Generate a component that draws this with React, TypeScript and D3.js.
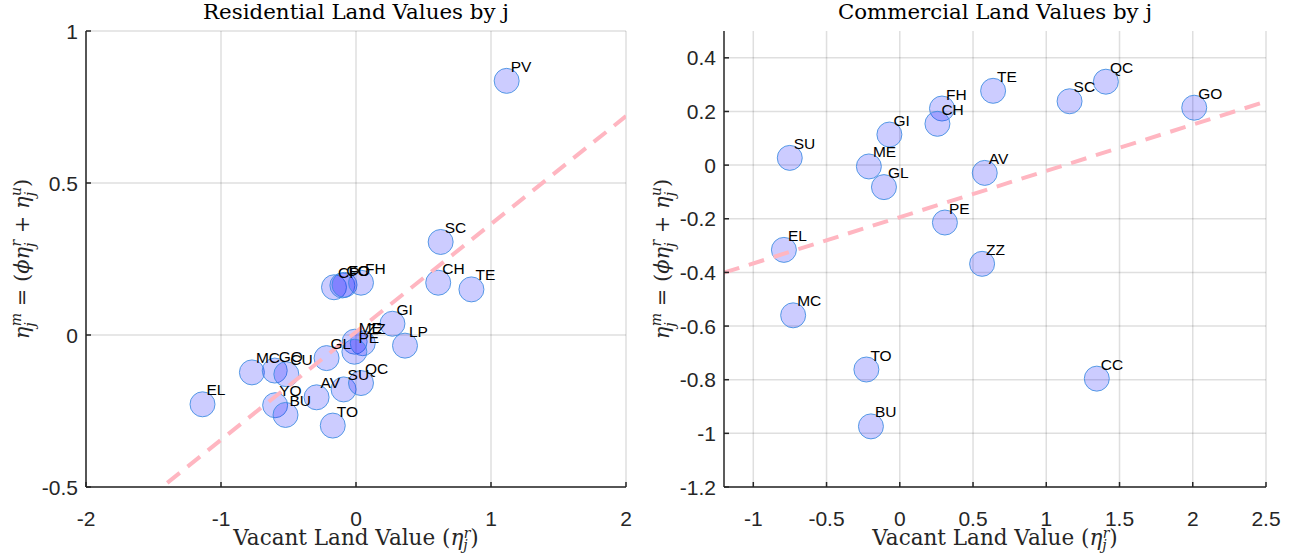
import React from 'react';
import * as d3 from 'd3';

// ---------- Data ----------
const resLabels = ['PV', 'SC', 'CH', 'TE', 'CP', 'CC', 'FO', 'FH', 'GI', 'ME', 'ZZ', 'PE', 'LP', 'GL', 'MC', 'GO', 'CU', 'EL', 'YO', 'BU', 'AV', 'SU', 'QC', 'TO'];
const resX = [1.116, 0.627, 0.609, 0.855, -0.163, -0.101, -0.085, 0.037, 0.27, -0.01, 0.05, -0.012, 0.363, -0.218, -0.771, -0.602, -0.516, -1.137, -0.599, -0.522, -0.292, -0.092, 0.037, -0.172];
const resY = [0.836, 0.306, 0.172, 0.15, 0.157, 0.163, 0.165, 0.172, 0.037, -0.022, -0.027, -0.055, -0.035, -0.076, -0.123, -0.117, -0.129, -0.228, -0.231, -0.263, -0.205, -0.179, -0.158, -0.298];
const resFit = [0.355, 0.01]; // slope, intercept

const comLabels = ['QC', 'SC', 'GO', 'TE', 'FH', 'CH', 'GI', 'SU', 'ME', 'GL', 'AV', 'PE', 'EL', 'ZZ', 'MC', 'TO', 'CC', 'BU'];
const comX = [1.407, 1.159, 2.01, 0.637, 0.288, 0.257, -0.071, -0.751, -0.211, -0.108, 0.58, 0.308, -0.791, 0.562, -0.728, -0.228, 1.345, -0.197];
const comY = [0.311, 0.238, 0.214, 0.277, 0.211, 0.154, 0.114, 0.027, -0.005, -0.082, -0.029, -0.214, -0.316, -0.368, -0.56, -0.762, -0.796, -0.974];
const comFit = [0.1725, -0.194];

const resXTicks = [-2, -1, 0, 1, 2];
const resYTicks = [-0.5, 0, 0.5, 1];
const resXTickLabels = ['-2', '-1', '0', '1', '2'];
const resYTickLabels = ['-0.5', '0', '0.5', '1'];

const comXTicks = [-1, -0.5, 0, 0.5, 1, 1.5, 2, 2.5];
const comYTicks = [-1.2, -1, -0.8, -0.6, -0.4, -0.2, 0, 0.2, 0.4];
const comXTickLabels = ['-1', '-0.5', '0', '0.5', '1', '1.5', '2', '2.5'];
const comYTickLabels = ['-1.2', '-1', '-0.8', '-0.6', '-0.4', '-0.2', '0', '0.2', '0.4'];

const titles = ['Residential Land Values by j', 'Commercial Land Values by j'];

// ---------- Styling ----------
const SERIF = "'DejaVu Serif', 'Liberation Serif', serif";
const SANS = "'Liberation Sans', Arial, Helvetica, sans-serif";
const AXIS = '#262626';

type PanelProps = {
  id: string;
  left: number; right: number; top: number; bottom: number;
  xDomain: [number, number]; yDomain: [number, number];
  xTicks: number[]; yTicks: number[];
  xTickLabels: string[]; yTickLabels: string[];
  labels: string[]; xs: number[]; ys: number[];
  fit: number[];
  title: string;
  titleWidth: number;
  yLabelX: number;
};

function Panel(p: PanelProps) {
  const x = d3.scaleLinear().domain(p.xDomain).range([p.left, p.right]);
  const y = d3.scaleLinear().domain(p.yDomain).range([p.bottom, p.top]);
  const line = d3.line<number>().x(d => x(d)).y(d => y(p.fit[0] * d + p.fit[1]));
  const cx = (p.left + p.right) / 2;
  const cy = (p.top + p.bottom) / 2;
  const tickLen = 5;
  const sub = 14;
  return (
    <g>
      <defs>
        <clipPath id={p.id}>
          <rect x={p.left} y={p.top} width={p.right - p.left} height={p.bottom - p.top} />
        </clipPath>
      </defs>
      {/* grid */}
      {p.xTicks.map((t, i) => (
        <line key={'gx' + i} x1={x(t)} x2={x(t)} y1={p.top} y2={p.bottom} stroke={AXIS} strokeOpacity={0.15} strokeWidth={1.5} />
      ))}
      {p.yTicks.map((t, i) => (
        <line key={'gy' + i} x1={p.left} x2={p.right} y1={y(t)} y2={y(t)} stroke={AXIS} strokeOpacity={0.15} strokeWidth={1.5} />
      ))}
      {/* points */}
      {p.xs.map((v, i) => (
        <circle key={'c' + i} cx={x(v)} cy={y(p.ys[i])} r={12.5} fill="rgba(0,0,255,0.2)" stroke="rgb(60,140,225)" strokeOpacity={0.85} strokeWidth={1} />
      ))}
      {/* fit line */}
      <path d={line(p.xDomain) || ''} clipPath={`url(#${p.id})`} fill="none" stroke="#ffb6c1" strokeWidth={4} strokeDasharray="16,10" />
      {/* labels */}
      {p.labels.map((l, i) => (
        <text key={'t' + i} x={x(p.xs[i]) + 4} y={y(p.ys[i]) - 9} fontFamily={SANS} fontSize={15.5} fill="#000">{l}</text>
      ))}
      {/* axes */}
      <line x1={p.left} x2={p.left} y1={p.top} y2={p.bottom} stroke={AXIS} strokeWidth={1.5} />
      <line x1={p.left} x2={p.right} y1={p.bottom} y2={p.bottom} stroke={AXIS} strokeWidth={1.5} />
      {p.xTicks.map((t, i) => (
        <g key={'xt' + i}>
          <line x1={x(t)} x2={x(t)} y1={p.bottom} y2={p.bottom - tickLen} stroke={AXIS} strokeWidth={1.5} />
          <text x={x(t)} y={p.bottom + 39} textAnchor="middle" fontFamily={SANS} fontSize={21} fill={AXIS}>{p.xTickLabels[i]}</text>
        </g>
      ))}
      {p.yTicks.map((t, i) => (
        <g key={'yt' + i}>
          <line x1={p.left} x2={p.left + tickLen} y1={y(t)} y2={y(t)} stroke={AXIS} strokeWidth={1.5} />
          <text x={p.left - 8} y={y(t) + 7.5} textAnchor="end" fontFamily={SANS} fontSize={21} fill={AXIS}>{p.yTickLabels[i]}</text>
        </g>
      ))}
      {/* title */}
      <text x={cx} y={19} textAnchor="middle" fontFamily={SERIF} fontSize={21} textLength={p.titleWidth} lengthAdjust="spacingAndGlyphs" fill="#000">{p.title}</text>
      {/* x label */}
      <text x={cx} y={545} textAnchor="middle" fontFamily={SERIF} fontSize={21.5} fill={AXIS}>
        <tspan>{'Vacant Land Value ('}</tspan>
        <tspan fontStyle="italic">η</tspan>
        <tspan fontSize={sub} fontStyle="italic" dy={5}>j</tspan>
        <tspan fontSize={sub} fontStyle="italic" dx={-4} dy={-12}>r</tspan>
        <tspan dy={7}>)</tspan>
      </text>
      {/* y label */}
      <text transform={`translate(${p.yLabelX},${cy}) rotate(-90)`} textAnchor="middle" fontFamily={SERIF} fontSize={21} fill={AXIS}>
        <tspan fontStyle="italic">η</tspan>
        <tspan fontSize={sub} fontStyle="italic" dy={6}>j</tspan>
        <tspan fontSize={sub} fontStyle="italic" dx={-4} dy={-14}>m</tspan>
        <tspan dy={8}>{' = ('}</tspan>
        <tspan fontStyle="italic">ϕη</tspan>
        <tspan fontSize={sub} fontStyle="italic" dy={6}>j</tspan>
        <tspan fontSize={sub} fontStyle="italic" dx={-4} dy={-14}>r</tspan>
        <tspan dy={8}>{' + '}</tspan>
        <tspan fontStyle="italic">η</tspan>
        <tspan fontSize={sub} fontStyle="italic" dy={6}>j</tspan>
        <tspan fontSize={sub} fontStyle="italic" dx={-4} dy={-14}>u</tspan>
        <tspan dy={8}>)</tspan>
      </text>
    </g>
  );
}

export default function App() {
  return (
    <svg width={1304} height={556} style={{ position: 'absolute', left: 0, top: 0, display: 'block', background: '#fff' }}>
      <rect x={0} y={0} width={1304} height={556} fill="#fff" />
      <Panel id="clipRes" left={86} right={626} top={31} bottom={487}
        xDomain={[-2, 2]} yDomain={[-0.5, 1]}
        xTicks={resXTicks} yTicks={resYTicks}
        xTickLabels={resXTickLabels} yTickLabels={resYTickLabels}
        labels={resLabels} xs={resX} ys={resY} fit={resFit}
        title={titles[0]} titleWidth={306} yLabelX={29} />
      <Panel id="clipCom" left={724} right={1266} top={31} bottom={487}
        xDomain={[-1.2, 2.5]} yDomain={[-1.2, 0.5]}
        xTicks={comXTicks} yTicks={comYTicks}
        xTickLabels={comXTickLabels} yTickLabels={comYTickLabels}
        labels={comLabels} xs={comX} ys={comY} fit={comFit}
        title={titles[1]} titleWidth={314} yLabelX={669} />
    </svg>
  );
}
